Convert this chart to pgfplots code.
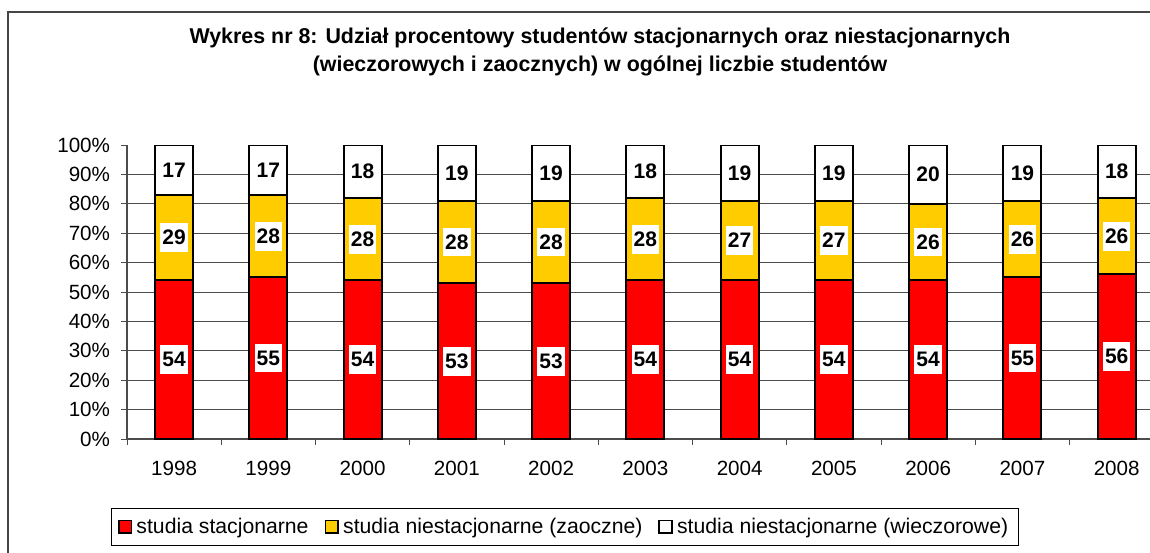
\documentclass[border=0pt]{standalone}
\usepackage{fontspec}
\setmainfont{Liberation Sans}
\usepackage{pgfplots}
\usepackage{pgfplotstable}
\pgfplotsset{compat=1.18}

\definecolor{stac}{RGB}{255,0,0}
\definecolor{zaoc}{RGB}{255,204,0}
\definecolor{ramka}{RGB}{70,70,70}

% udzial procentowy: stacjonarne, zaoczne, wieczorowe
\pgfplotstableread{
x  s  z  w
0  54 29 17
1  55 28 17
2  54 28 18
3  53 28 19
4  53 28 19
5  54 28 18
6  54 27 19
7  54 27 19
8  54 26 20
9  55 26 19
10 56 26 18
}\dane

\begin{document}
\begin{tikzpicture}
\path[use as bounding box] (0pt,0pt) rectangle (575pt,276pt);
\clip (0pt,0pt) rectangle (575pt,276pt);
\draw[ramka, line width=0.8pt] (4pt,-10pt) rectangle (600pt,270pt);

\node[font=\bfseries\fontsize{10.7}{14.2}\selectfont, align=center] at (300pt,250pt)
  {Wykres nr 8: Udział procentowy studentów stacjonarnych oraz niestacjonarnych\\
   (wieczorowych i zaocznych) w ogólnej liczbie studentów};

\begin{axis}[
  at={(63.5pt,56.5pt)}, anchor=south west,
  scale only axis, width=518.4pt, height=147pt,
  ybar stacked, bar width=19pt,
  xmin=-0.5, xmax=10.5, ymin=0, ymax=100,
  separate axis lines,
  axis x line*=bottom, axis y line*=left,
  axis line style={-, draw=gray!60!black, line width=0.6pt},
  xtick={-0.5,0.5,...,10.5},
  x tick label as interval,
  xticklabels={1998,1999,2000,2001,2002,2003,2004,2005,2006,2007,2008},
  ytick={0,10,...,100},
  yticklabel={\pgfmathprintnumber{\tick}\%},
  extra y ticks={10,20,...,90},
  extra y tick labels={},
  extra y tick style={grid=major},
  major grid style={draw=gray!60!black, line width=0.5pt},
  tick align=outside, major tick length=2.8pt,
  tick style={draw=gray!60!black, line width=0.5pt},
  /pgf/number format/assume math mode=true,
  ticklabel style={font=\fontsize{10.3}{12}\selectfont},
  yticklabel style={inner sep=0pt, xshift=-5.5pt},
  xticklabel style={inner sep=0pt, yshift=-8pt},
  legend columns=-1,
  legend style={at={(0.4225,-0.299)}, anchor=center, draw=black, line width=0.5pt,
    font=\fontsize{10.6}{12}\selectfont, inner xsep=3pt, inner ysep=2.5pt,
    /tikz/every even column/.append style={column sep=6pt}},
  legend image code/.code={\draw[#1, draw=black, line width=0.9pt] (0pt,-3.2pt) rectangle (6.4pt,3.2pt);},
]
\addplot[fill=stac, draw=black, line width=1pt] table[x=x, y=s] {\dane};
\addplot[fill=zaoc, draw=black, line width=1pt] table[x=x, y=z] {\dane};
\addplot[fill=white, draw=black, line width=1pt] table[x=x, y=w] {\dane};
\legend{studia stacjonarne, studia niestacjonarne (zaoczne), studia niestacjonarne (wieczorowe)}
\end{axis}

\begin{axis}[
  at={(63.5pt,56.5pt)}, anchor=south west,
  scale only axis, width=518.4pt, height=147pt,
  xmin=-0.5, xmax=10.5, ymin=0, ymax=100,
  hide axis, clip=false,
  /pgf/number format/assume math mode=true,
  nodes near coords={\pgfmathprintnumber{\pgfplotspointmeta}},
  nodes near coords align={center},
  every node near coord/.append style={anchor=center, fill=white, inner xsep=1pt, inner ysep=3.5pt,
    font=\bfseries\fontsize{10.5}{12}\selectfont},
  point meta=explicit,
]
\addplot[draw=none, mark=none] table[x=x, y expr=\thisrow{s}/2, meta=s] {\dane};
\addplot[draw=none, mark=none] table[x=x, y expr=\thisrow{s}+\thisrow{z}/2, meta=z] {\dane};
\addplot[draw=none, mark=none] table[x=x, y expr=\thisrow{s}+\thisrow{z}+\thisrow{w}/2, meta=w] {\dane};
\end{axis}
\end{tikzpicture}
\end{document}
